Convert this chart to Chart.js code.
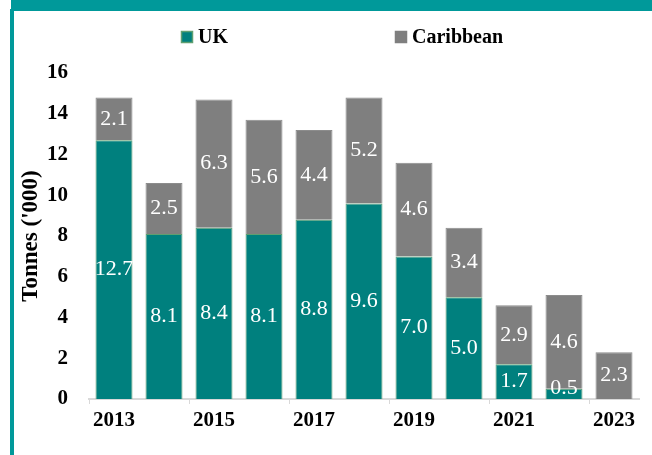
<!DOCTYPE html>
<html>
<head>
<meta charset="utf-8">
<script src="https://cdn.jsdelivr.net/npm/chart.js@4"></script>
<style>
  html, body { margin: 0; padding: 0; background: #fff; }
  #wrap { width: 652px; height: 455px; position: relative; }
</style>
</head>
<body>
<div id="wrap"><canvas id="tonnesChart" width="652" height="455"></canvas></div>
<script>
var years = ['2013', '2014', '2015', '2016', '2017', '2018', '2019', '2020', '2021', '2022', '2023'];
var uk_values = [12.7, 8.1, 8.4, 8.1, 8.8, 9.6, 7.0, 5.0, 1.7, 0.5, null];
var caribbean_values = [2.1, 2.5, 6.3, 5.6, 4.4, 5.2, 4.6, 3.4, 2.9, 4.6, 2.3];
var y_ticks = [0, 2, 4, 6, 8, 10, 12, 14, 16];

var teal = '#00807e';
var grey = '#7f7f7f';
var serif = "'Liberation Serif', 'DejaVu Serif', serif";

// teal frame round the chart (top band + left rule)
var framePlugin = {
    id: 'frame',
    beforeDraw: function(chart) {
        var ctx = chart.ctx;
        ctx.save();
        ctx.fillStyle = '#00999a';
        ctx.fillRect(11, 0, 641, 11);
        ctx.fillRect(10, 9, 4, 446);
        ctx.restore();
    }
};

// legend drawn by hand, Excel spaces the two items far apart
var legendPlugin = {
    id: 'legendBoxes',
    afterDraw: function(chart) {
        var ctx = chart.ctx;
        var items = [
            { x: 181, text: 'UK', fill: teal, stroke: '#5f9f70' },
            { x: 395, text: 'Caribbean', fill: grey, stroke: grey }
        ];
        ctx.save();
        ctx.font = 'bold 20px ' + serif;
        ctx.textBaseline = 'middle';
        ctx.textAlign = 'left';
        items.forEach(function(item) {
            ctx.fillStyle = item.fill;
            ctx.fillRect(item.x, 31, 12, 12);
            ctx.strokeStyle = item.stroke;
            ctx.lineWidth = 1.5;
            ctx.strokeRect(item.x + 0.5, 31.5, 11, 11);
            ctx.fillStyle = '#000';
            ctx.fillText(item.text, item.x + 17, 37.5);
        });
        ctx.restore();
    }
};

// white value labels in the middle of each segment
var valueLabelPlugin = {
    id: 'valueLabels',
    afterDatasetsDraw: function(chart) {
        var ctx = chart.ctx;
        ctx.save();
        ctx.font = '22px ' + serif;
        ctx.fillStyle = '#fff';
        ctx.textAlign = 'center';
        ctx.textBaseline = 'middle';
        chart.data.datasets.forEach(function(ds, i) {
            var meta = chart.getDatasetMeta(i);
            meta.data.forEach(function(bar, j) {
                var v = ds.data[j];
                if (v === null || v === 0) return;
                var y = (bar.y + bar.base) / 2;
                if (y > bar.base - 11) y = bar.base - 11;
                ctx.fillText(v.toFixed(1), bar.x, y);
            });
        });
        ctx.restore();
    }
};

var chart = new Chart(document.getElementById('tonnesChart').getContext('2d'), {
    type: 'bar',
    data: {
        labels: years,
        datasets: [{
            label: 'UK',
            data: uk_values,
            backgroundColor: teal,
            borderColor: '#5f9f70',
            borderWidth: 1,
            barPercentage: 0.74,
            categoryPercentage: 1
        }, {
            label: 'Caribbean',
            data: caribbean_values,
            backgroundColor: grey,
            borderColor: '#8c8c8c',
            borderWidth: 1,
            barPercentage: 0.74,
            categoryPercentage: 1
        }]
    },
    options: {
        responsive: false,
        animation: false,
        layout: {
            padding: { left: 0, top: 73, right: 13, bottom: 0 }
        },
        scales: {
            x: {
                stacked: true,
                afterFit: function(scale) { scale.height = 56; },
                border: { display: true, color: '#d9d9d9', width: 2 },
                grid: {
                    offset: true,
                    drawOnChartArea: false,
                    drawTicks: true,
                    tickLength: 5,
                    color: function(c) { return c.index % 2 === 0 ? '#d9d9d9' : 'rgba(0,0,0,0)'; }
                },
                ticks: {
                    autoSkip: false,
                    maxRotation: 0,
                    padding: 4,
                    color: '#000',
                    font: { family: serif, size: 21, weight: 'bold' },
                    callback: function(v, i) { return i % 2 === 0 ? this.getLabelForValue(v) : ''; }
                }
            },
            y: {
                stacked: true,
                min: 0,
                max: 16,
                afterFit: function(scale) { scale.width = 89; },
                afterBuildTicks: function(scale) {
                    scale.ticks = y_ticks.map(function(v) { return { value: v }; });
                },
                border: { display: false },
                grid: { display: false, drawTicks: false },
                ticks: {
                    padding: 21,
                    color: '#000',
                    font: { family: serif, size: 21, weight: 'bold' }
                },
                title: {
                    display: true,
                    text: "Tonnes ('000)",
                    color: '#000',
                    padding: { top: 17, bottom: 0 },
                    font: { family: serif, size: 23, weight: 'bold' }
                }
            }
        },
        plugins: {
            legend: { display: false },
            tooltip: { enabled: false }
        }
    },
    plugins: [framePlugin, legendPlugin, valueLabelPlugin]
});
</script>
</body>
</html>
